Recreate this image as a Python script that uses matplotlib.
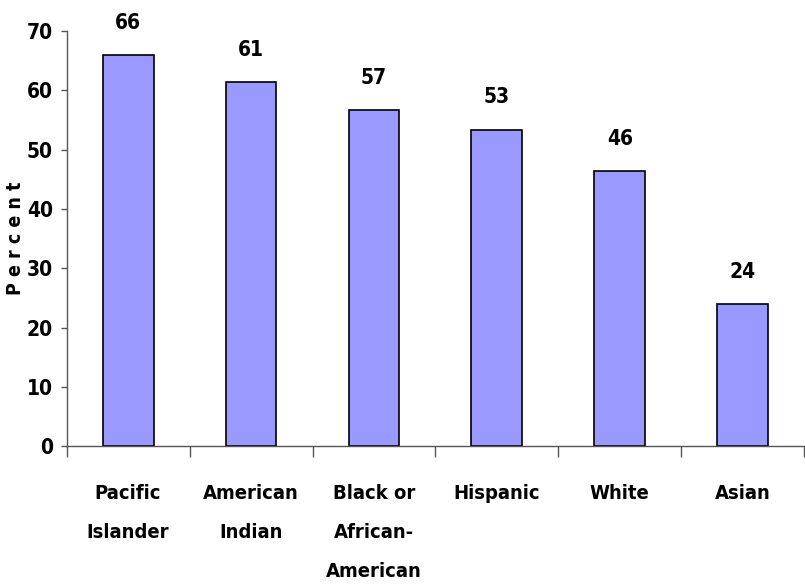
import matplotlib
matplotlib.use("Agg")
import matplotlib.pyplot as plt
from matplotlib import font_manager

categories = ["Pacific\nIslander", "American\nIndian", "Black or\nAfrican-\nAmerican",
              "Hispanic", "White", "Asian"]
values = [66.0, 61.4, 56.7, 53.4, 46.4, 24.0]
yticks = [0, 10, 20, 30, 40, 50, 60, 70]

# look for a condensed bold face, like the narrow font of the original
narrow = [f for f in font_manager.fontManager.ttflist
          if f.stretch in ("condensed", "semi-condensed", "extra-condensed", 300, 400)
          and f.weight in ("bold", 700)]
if narrow:
    fam = [narrow[0].name, "DejaVu Sans"]
    stretch = narrow[0].stretch
else:
    fam = ["Liberation Sans", "DejaVu Sans"]
    stretch = "normal"
plt.rcParams["font.family"] = fam
plt.rcParams["font.weight"] = "bold"
plt.rcParams["font.stretch"] = stretch

fig = plt.figure(figsize=(8.05, 5.88), dpi=100)
ax = fig.add_axes([0.0828, 0.241, 0.9162, 0.706])

x = list(range(len(categories)))
ax.bar(x, values, width=0.414, color="#9999FF", edgecolor="black", linewidth=1.2)

for xi, v in zip(x, values):
    ax.annotate(str(int(round(v))), (xi, v), xytext=(0, 16), textcoords="offset points",
                ha="center", va="bottom", fontsize=15, fontweight="bold")

ax.set_xlim(-0.5, len(categories) - 0.5)
ax.set_ylim(0, 70)
ax.set_yticks(yticks)
ax.set_yticklabels([str(t) for t in yticks], fontsize=15, fontweight="bold")

ax.set_xticks(x)
ax.set_xticklabels(categories, fontsize=14.5, fontweight="bold", linespacing=2.35)
ax.set_xticks([i - 0.5 for i in range(len(categories) + 1)], minor=True)
ax.tick_params(axis="x", which="major", length=0, pad=27)
ax.tick_params(axis="x", which="minor", length=8, width=1, color="#555555", direction="out")
ax.tick_params(axis="y", length=4, width=1, color="#555555", pad=6)

for s in ["top", "right"]:
    ax.spines[s].set_visible(False)
for s in ["left", "bottom"]:
    ax.spines[s].set_color("#555555")
    ax.spines[s].set_linewidth(1)

ax.set_ylabel("P e r c e n t", fontsize=14, fontweight="bold")
ax.yaxis.set_label_coords(-0.057, 0.5)

fig.savefig("out.png", dpi=100)
